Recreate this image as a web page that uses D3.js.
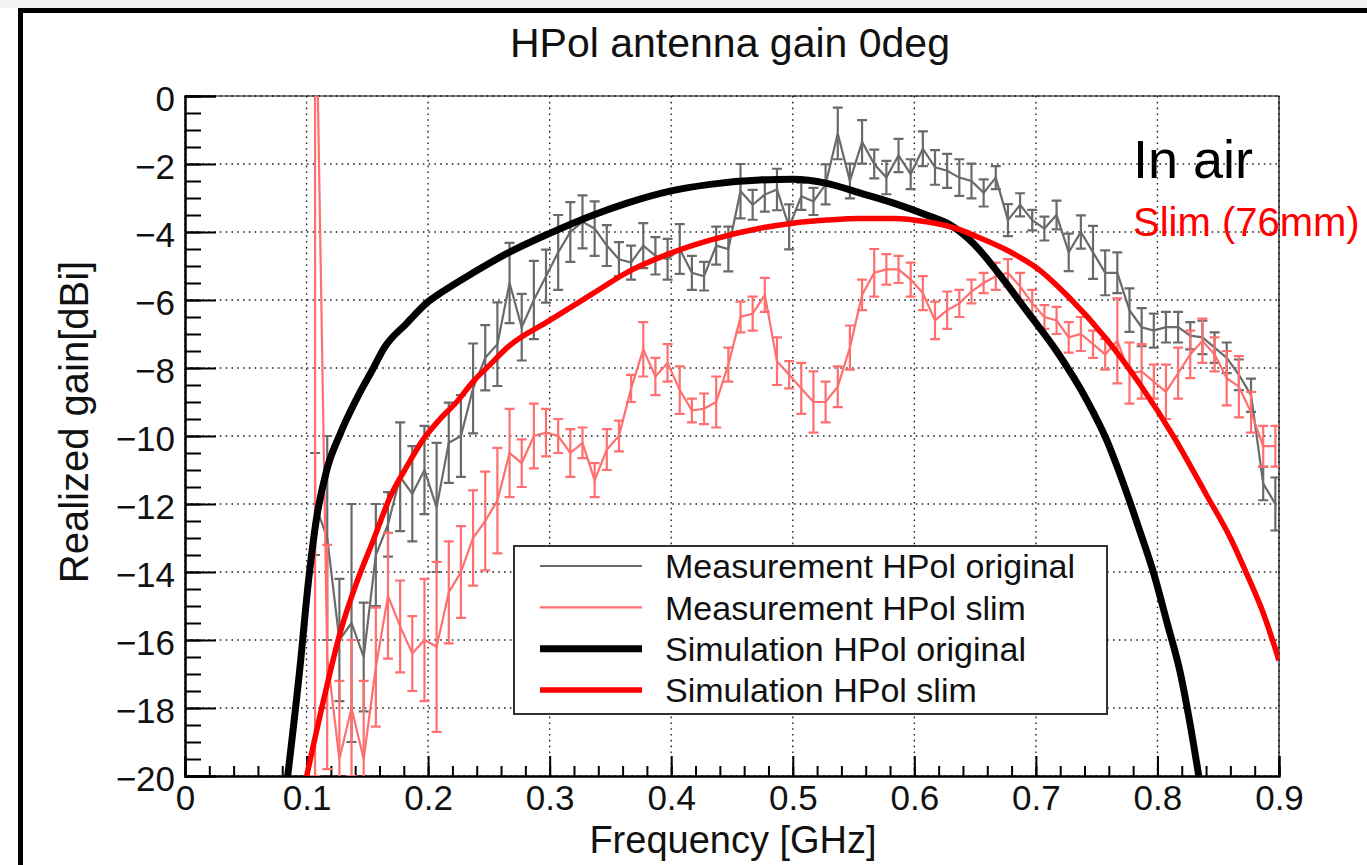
<!DOCTYPE html>
<html><head><meta charset="utf-8">
<script src="https://cdn.jsdelivr.net/npm/d3@7"></script>
<style>
html,body{margin:0;padding:0;background:#fff;}
svg{display:block;}
text{font-family:"Liberation Sans", Arial, Helvetica, sans-serif;}
</style></head><body>
<svg id="chart" width="1367" height="865"></svg>
<script>
// ---------------- data ----------------
const xTicks = [0, 0.1, 0.2, 0.3, 0.4, 0.5, 0.6, 0.7, 0.8, 0.9];
const yTicks = [0, -2, -4, -6, -8, -10, -12, -14, -16, -18, -20];
const seriesNames = ["Measurement HPol original", "Measurement HPol slim", "Simulation HPol original", "Simulation HPol slim"];

const measFreq = [0.107,0.117,0.127,0.137,0.147,0.157,0.167,0.177,0.187,0.197,
  0.207,0.217,0.227,0.237,0.247,0.257,0.267,0.277,0.287,0.297,
  0.307,0.317,0.327,0.337,0.347,0.357,0.367,0.377,0.387,0.397,
  0.407,0.417,0.427,0.437,0.447,0.457,0.467,0.477,0.487,0.497,
  0.507,0.517,0.527,0.537,0.547,0.557,0.567,0.577,0.587,0.597,
  0.607,0.617,0.627,0.637,0.647,0.657,0.667,0.677,0.687,0.697,
  0.707,0.717,0.727,0.737,0.747,0.757,0.767,0.777,0.787,0.797,
  0.807,0.817,0.827,0.837,0.847,0.857,0.867,0.877,0.887,0.897];

const origGain = [-12.0,-13.0,-16.0,-15.5,-16.5,-13.5,-12.6,-11.2,-11.7,-11.0,
  -12.1,-10.2,-10.0,-8.6,-7.7,-7.3,-5.5,-6.8,-6.0,-5.3,
  -4.6,-4.0,-3.7,-3.9,-4.4,-4.8,-4.9,-4.4,-4.7,-4.8,
  -4.5,-5.2,-5.3,-4.4,-4.5,-2.8,-3.2,-2.9,-2.75,-3.85,
  -2.95,-3.1,-2.6,-1.1,-2.5,-1.35,-2.0,-2.4,-1.75,-2.3,
  -1.55,-2.1,-2.2,-2.4,-2.5,-2.85,-2.4,-3.65,-3.2,-3.65,
  -3.9,-3.5,-4.6,-4.0,-4.6,-5.2,-5.2,-6.3,-6.8,-6.9,
  -6.8,-6.8,-7.05,-7.1,-7.4,-7.7,-8.2,-8.8,-11.4,-12.0];
const origErr = [1.5,3.0,1.8,3.5,1.6,1.5,0.95,1.6,1.4,1.3,
  1.9,1.18,1.2,1.32,0.96,1.23,1.18,0.98,1.15,0.78,
  1.1,0.88,0.78,0.8,0.6,0.5,0.5,0.66,0.55,0.6,
  0.73,0.5,0.42,0.56,0.66,0.8,0.44,0.5,0.61,0.66,
  0.4,0.4,0.59,0.76,0.51,0.64,0.42,0.49,0.49,0.44,
  0.51,0.51,0.5,0.54,0.51,0.4,0.34,0.47,0.34,0.3,
  0.35,0.42,0.55,0.49,0.78,0.66,0.6,0.64,0.56,0.5,
  0.45,0.45,0.4,0.49,0.45,0.45,0.45,0.49,0.49,0.78];

const slimGain = [5.0,-16.5,-19.5,-18.0,-19.5,-16.8,-14.7,-15.6,-16.4,-16.0,
  -16.2,-14.6,-14.0,-13.0,-12.5,-11.9,-10.5,-10.8,-10.0,-9.9,
  -10.0,-10.5,-10.2,-11.3,-10.4,-10.0,-8.6,-7.45,-8.25,-7.85,
  -8.65,-9.25,-9.2,-9.0,-7.9,-6.5,-6.4,-5.85,-7.8,-8.2,
  -8.6,-9.0,-9.0,-8.55,-7.4,-5.85,-5.2,-5.1,-5.1,-5.4,
  -5.8,-6.6,-6.3,-6.1,-5.75,-5.5,-5.3,-5.2,-5.6,-6.1,
  -6.5,-6.6,-7.1,-7.0,-7.3,-7.6,-7.2,-8.15,-8.1,-8.4,
  -8.7,-8.15,-7.6,-7.2,-7.6,-8.3,-8.55,-9.3,-10.3,-10.3];
const slimErr = [25,3.3,2.3,2.0,2.3,1.75,1.85,1.35,1.1,1.8,
  2.5,1.5,1.35,1.4,1.45,1.55,1.3,0.7,0.95,0.7,
  0.5,0.7,0.45,0.5,0.6,0.45,0.4,0.8,0.55,0.55,
  0.7,0.35,0.45,0.75,0.5,0.45,0.5,0.5,0.7,0.4,
  0.75,0.9,0.6,0.6,0.65,0.45,0.7,0.45,0.4,0.5,
  0.5,0.55,0.55,0.4,0.35,0.3,0.4,0.4,0.4,0.4,
  0.35,0.4,0.45,0.5,0.4,0.45,1.25,0.9,0.8,0.5,
  0.8,0.75,0.7,0.65,0.5,0.8,0.9,0.6,0.6,0.6];

const simOrigFreq = [0.0845,0.0946,0.1015,0.1083,0.1166,0.1275,0.1413,0.155,0.164,0.182,0.2,0.21,0.237,0.265,0.3,0.336,0.363,0.399,0.432,0.473,0.5,0.528,0.555,0.583,0.61,0.63,0.649,0.67,0.692,0.717,0.742,0.758,0.772,0.786,0.797,0.808,0.819,0.827,0.834];
const simOrigGain = [-20,-16.8,-14.3,-12.4,-11.0,-9.95,-8.9,-8.0,-7.4,-6.7,-6.05,-5.8,-5.2,-4.63,-4.04,-3.5,-3.16,-2.8,-2.6,-2.47,-2.45,-2.57,-2.85,-3.15,-3.5,-3.8,-4.35,-5.25,-6.3,-7.5,-8.95,-10.1,-11.4,-12.85,-14.05,-15.5,-17.0,-18.5,-20];

const simSlimFreq = [0.1001,0.1138,0.1275,0.1413,0.155,0.1687,0.1824,0.196,0.2098,0.2235,0.237,0.251,0.265,0.30,0.336,0.363,0.399,0.432,0.473,0.5,0.528,0.555,0.583,0.61,0.638,0.649,0.676,0.703,0.728,0.758,0.786,0.813,0.8406,0.86,0.874,0.888,0.9];
const simSlimGain = [-20,-17.8,-15.8,-14.3,-13.06,-11.8,-10.9,-10.1,-9.5,-9.0,-8.4,-7.9,-7.4,-6.6,-5.8,-5.2,-4.63,-4.24,-3.89,-3.74,-3.65,-3.6,-3.6,-3.7,-3.94,-4.1,-4.53,-5.12,-5.95,-7.15,-8.5,-10.0,-11.75,-13.0,-14.1,-15.3,-16.6];

// ---------------- layout ----------------
const svg = d3.select("#chart");
const P = {l:185, r:1279, t:96, b:776};
const x = d3.scaleLinear().domain([0, 0.9]).range([P.l, P.r]);
const y = d3.scaleLinear().domain([-20, 0]).range([P.b, P.t]);
const fmtMinus = v => (v < 0 ? "\u2212" + Math.abs(v) : String(v));

// background / outer frame
svg.append("rect").attr("x",0).attr("y",0).attr("width",1367).attr("height",8).attr("fill","#f3f3f3");
svg.append("path").attr("d","M20.5,1000 L20.5,10.5 L1400,10.5").attr("fill","none").attr("stroke","#000").attr("stroke-width",5);

const defs = svg.append("defs");
defs.append("clipPath").attr("id","plotclip").append("rect")
  .attr("x",P.l).attr("y",P.t).attr("width",P.r-P.l).attr("height",P.b-P.t);

// grid
const grid = svg.append("g").attr("stroke","#222").attr("stroke-width",1.4).attr("stroke-dasharray","1.6,4.2");
grid.selectAll("line.gx").data(xTicks).join("line")
  .attr("x1",d=>x(d)).attr("x2",d=>x(d)).attr("y1",P.t).attr("y2",P.b);
grid.selectAll("line.gy").data(yTicks).join("line")
  .attr("x1",P.l).attr("x2",P.r).attr("y1",d=>y(d)).attr("y2",d=>y(d));

// frame top/right
svg.append("path").attr("d",`M${P.l},${P.t} H${P.r} V${P.b}`).attr("fill","none").attr("stroke","#000").attr("stroke-width",1.2);

// axes
const xMinor = d3.range(0, 0.9001, 0.02);
const yMinor = d3.range(-20, 0.001, 0.5);
const gxMinor = svg.append("g").attr("transform",`translate(0,${P.b})`)
  .call(d3.axisBottom(x).tickValues(xMinor).tickSize(-10).tickFormat(""));
const gx = svg.append("g").attr("transform",`translate(0,${P.b})`)
  .call(d3.axisBottom(x).tickValues(xTicks).tickSize(-20).tickPadding(8).tickFormat(d => d === 0 ? "0" : d3.format(".1f")(d)));
const gyMinor = svg.append("g").attr("transform",`translate(${P.l},0)`)
  .call(d3.axisLeft(y).tickValues(yMinor).tickSize(-16).tickFormat(""));
const gy = svg.append("g").attr("transform",`translate(${P.l},0)`)
  .call(d3.axisLeft(y).tickValues(yTicks).tickSize(-31).tickPadding(10).tickFormat(fmtMinus));
[gxMinor,gx,gyMinor,gy].forEach(g=>{
  g.selectAll(".domain").attr("stroke","#000").attr("stroke-width",2);
  g.selectAll(".tick line").attr("stroke","#000").attr("stroke-width",2);
});
gx.selectAll(".tick text").attr("font-size",35).attr("fill","#111").attr("font-family","Liberation Sans, Arial, sans-serif").attr("dy","0.74em");
gy.selectAll(".tick text").attr("font-size",35).attr("fill","#111").attr("font-family","Liberation Sans, Arial, sans-serif").attr("dy","0.42em");

// series
const plot = svg.append("g").attr("clip-path","url(#plotclip)");
function meas(vals, errs, color){
  const pts = measFreq.map((f,i)=>({f, v:vals[i], e:errs[i]}));
  const g = plot.append("g").attr("stroke",color).attr("stroke-width",2.2).attr("fill","none");
  g.append("path").attr("d", d3.line().x(d=>x(d.f)).y(d=>y(d.v))(pts));
  g.selectAll("path.eb").data(pts).join("path").attr("class","eb")
    .attr("d", d => {
      const cx = x(d.f), y1 = y(d.v + d.e), y2 = y(d.v - d.e);
      return `M${cx},${y1} V${y2} M${cx-5},${y1} H${cx+5} M${cx-5},${y2} H${cx+5}`;
    });
}
meas(origGain, origErr, "#6a6a6a");
meas(slimGain, slimErr, "#ff6f6f");

const simLine = d3.line().x(d=>x(d[0])).y(d=>y(d[1])).curve(d3.curveMonotoneX);
plot.append("path").attr("d", simLine(simOrigFreq.map((f,i)=>[f, simOrigGain[i]])))
  .attr("fill","none").attr("stroke","#000").attr("stroke-width",7);
plot.append("path").attr("d", simLine(simSlimFreq.map((f,i)=>[f, simSlimGain[i]])))
  .attr("fill","none").attr("stroke","#ff0000").attr("stroke-width",5.5);

// titles
svg.append("text").attr("x",730).attr("y",57).attr("text-anchor","middle").attr("font-size",41).attr("fill","#111").text("HPol antenna gain 0deg");
svg.append("text").attr("x",733).attr("y",853).attr("text-anchor","middle").attr("font-size",38).attr("fill","#111").text("Frequency [GHz]");
svg.append("text").attr("transform","translate(88,422) rotate(-90)").attr("text-anchor","middle").attr("font-size",40).attr("fill","#111").text("Realized gain[dBi]");

// annotations
svg.append("text").attr("x",1133).attr("y",178).attr("font-family","Lato, 'Open Sans', sans-serif").attr("font-size",54).attr("fill","#000").text("In air");
svg.append("text").attr("x",1133).attr("y",236).attr("font-family","Lato, 'Open Sans', sans-serif").attr("font-size",40).attr("fill","#ff0000").text("Slim (76mm)");

// legend
const lg = svg.append("g");
lg.append("rect").attr("x",514).attr("y",546).attr("width",593).attr("height",168).attr("fill","#fff").attr("stroke","#333").attr("stroke-width",2);
const legStyles = [["#6a6a6a",2.2],["#ff6f6f",2.2],["#000",7],["#ff0000",5.5]];
const rowY = d3.scaleLinear().domain([0,3]).range([566,690]);
seriesNames.forEach((name,i)=>{
  lg.append("line").attr("x1",540).attr("x2",642).attr("y1",rowY(i)).attr("y2",rowY(i))
    .attr("stroke",legStyles[i][0]).attr("stroke-width",legStyles[i][1]);
  lg.append("text").attr("x",665).attr("y",rowY(i)).attr("dy","0.36em").attr("font-size",34).attr("fill","#111").text(name);
});
</script>
</body></html>
